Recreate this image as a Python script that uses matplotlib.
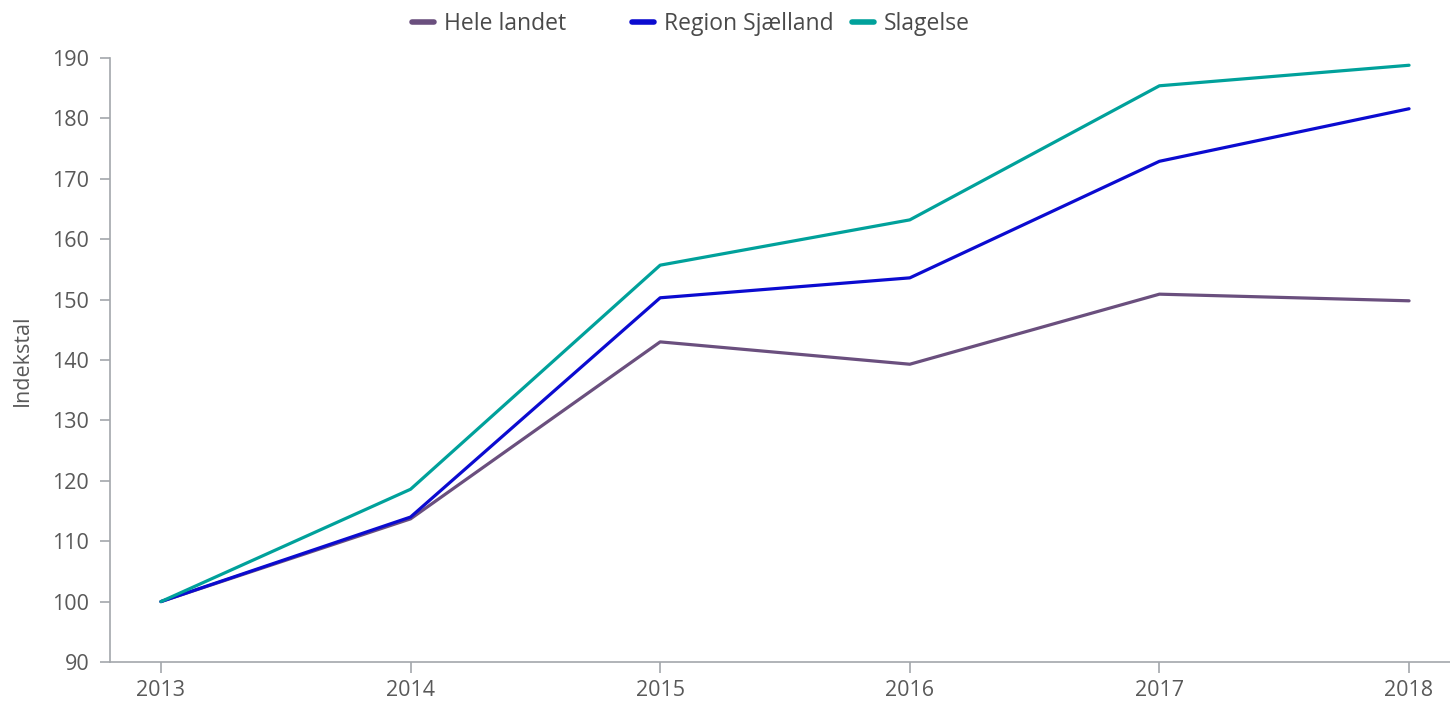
import matplotlib
matplotlib.use("Agg")
import matplotlib.pyplot as plt
from matplotlib.lines import Line2D

years = [2013, 2014, 2015, 2016, 2017, 2018]
hele_landet = [100, 113.7, 143.0, 139.3, 150.9, 149.8]
region_sjaelland = [100, 114.0, 150.3, 153.6, 172.9, 181.6]
slagelse = [100, 118.6, 155.7, 163.2, 185.4, 188.8]
yticks = list(range(90, 191, 10))

series = [("Hele landet", hele_landet, "#6a4f7e"),
          ("Region Sjælland", region_sjaelland, "#0b0bd0"),
          ("Slagelse", slagelse, "#00a19b")]

plt.rcParams['font.family'] = ['Open Sans', 'DejaVu Sans']
axis_col = "#a3a7ab"
text_col = "#595959"

fig = plt.figure(figsize=(14.5, 7.05), dpi=100)
ax = fig.add_axes([110/1450, 43/705, 1340/1450, 604/705])

for name, vals, col in series:
    ax.plot(years, vals, color=col, lw=2.3, solid_capstyle='round', solid_joinstyle='round')

ax.set_xlim(2012.796, 2018.164)
ax.set_ylim(90, 190)
ax.set_xticks(years)
ax.set_yticks(yticks)
for s in ['top', 'right']:
    ax.spines[s].set_visible(False)
for s in ['left', 'bottom']:
    ax.spines[s].set_color(axis_col)
    ax.spines[s].set_linewidth(1.2)
ax.tick_params(axis='both', colors=axis_col, labelcolor=text_col, labelsize=15.5, width=1.2)
ax.tick_params(axis='y', length=7, pad=8)
ax.tick_params(axis='x', length=8, pad=5)
ax.set_ylabel("Indekstal", fontsize=15.5, color=text_col, labelpad=14)

x_slots = [412/1450, 632/1450, 852/1450]
for (name, vals, col), xs in zip(series, x_slots):
    h = Line2D([0], [0], color=col, lw=4, solid_capstyle='round')
    fig.legend(handles=[h], labels=[name], loc='center left', bbox_to_anchor=(xs, 1 - 24/705),
               frameon=False, fontsize=16.5, handlelength=0.95, handletextpad=0.45,
               labelcolor='#4a4a4a', borderaxespad=0, borderpad=0)

fig.savefig("out.png", dpi=100)
